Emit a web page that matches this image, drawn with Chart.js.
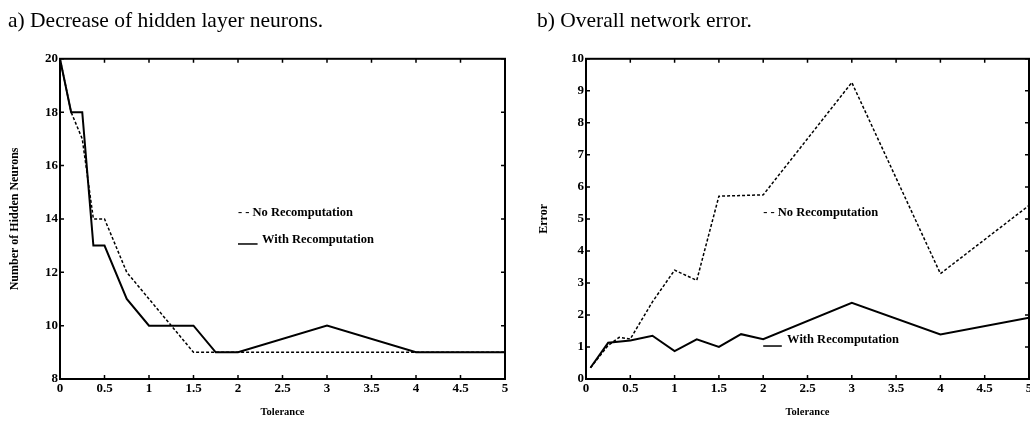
<!DOCTYPE html>
<html>
<head>
<meta charset="utf-8">
<script src="https://cdn.jsdelivr.net/npm/chart.js@4.4.1/dist/chart.umd.min.js"></script>
<style>
  html, body { margin: 0; padding: 0; background: #fff; overflow: hidden; width: 1030px; height: 426px; }
  #boxA { position: absolute; left: 0; top: 0; width: 520px; height: 426px; }
  #boxB { position: absolute; left: 530px; top: 0; width: 510px; height: 426px; }
</style>
</head>
<body>
<div id="boxA"><canvas id="neurons_canvas"></canvas></div>
<div id="boxB"><canvas id="error_canvas"></canvas></div>
<script>
// a) hidden layer neurons vs. tolerance
const tolNeurons = [0, 0.125, 0.25, 0.375, 0.5, 0.75, 1, 1.25, 1.5, 1.75, 2, 3, 4, 5];
const neuronsNoRecomp = [20, 18, 17, 14, 14, 12, 11, 10, 9, 9, 9, 9, 9, 9];
const neuronsWithRecomp = [20, 18, 18, 13, 13, 11, 10, 10, 10, 9, 9, 10, 9, 9];

// b) overall network error vs. tolerance
const tolErrorNo = [0.05, 0.25, 0.375, 0.5, 0.75, 1, 1.25, 1.5, 1.75, 2, 3, 4, 5];
const errorNoRecomp = [0.35, 1.05, 1.3, 1.25, 2.41, 3.4, 3.08, 5.71, 5.73, 5.75, 9.26, 3.29, 5.42];
const tolErrorWith = [0.05, 0.25, 0.5, 0.75, 1, 1.25, 1.5, 1.75, 2, 3, 4, 5];
const errorWithRecomp = [0.35, 1.13, 1.2, 1.35, 0.87, 1.24, 1.0, 1.4, 1.24, 2.38, 1.39, 1.91];

// tick labels
const xTicks = [0, 0.5, 1, 1.5, 2, 2.5, 3, 3.5, 4, 4.5, 5];
const yTicksNeurons = [8, 10, 12, 14, 16, 18, 20];
const yTicksError = [0, 1, 2, 3, 4, 5, 6, 7, 8, 9, 10];

const serif = "'Liberation Serif', 'Times New Roman', serif";

const toPoints = (xs, ys) => xs.map((x, i) => ({ x: x, y: ys[i] }));

// box around the plot with small inward ticks, plus the in-plot legend text
const framePlugin = {
  id: 'frame',
  afterDatasetsDraw(chart, args, opts) {
    const { ctx, chartArea: a, scales: { x, y } } = chart;
    ctx.save();
    ctx.strokeStyle = '#000';
    ctx.lineWidth = 2;
    ctx.strokeRect(a.left, a.top, a.right - a.left, a.bottom - a.top);

    ctx.lineWidth = 1.5;
    ctx.beginPath();
    x.ticks.forEach(t => {
      const px = x.getPixelForValue(t.value);
      ctx.moveTo(px, a.bottom); ctx.lineTo(px, a.bottom - 4);
      ctx.moveTo(px, a.top); ctx.lineTo(px, a.top + 4);
    });
    y.ticks.forEach(t => {
      const py = y.getPixelForValue(t.value);
      ctx.moveTo(a.left, py); ctx.lineTo(a.left + 4, py);
      ctx.moveTo(a.right, py); ctx.lineTo(a.right - 4, py);
    });
    ctx.stroke();

    // legend written inside the plot
    const lg = opts.legend;
    ctx.fillStyle = '#000';
    ctx.font = 'bold 12.5px ' + serif;
    ctx.textAlign = 'left';
    ctx.textBaseline = 'middle';
    ctx.fillText('- - No Recomputation', x.getPixelForValue(lg.x), y.getPixelForValue(lg.yNo));
    ctx.lineWidth = 1.5;
    ctx.beginPath();
    ctx.moveTo(x.getPixelForValue(lg.x), y.getPixelForValue(lg.yLine));
    ctx.lineTo(x.getPixelForValue(lg.xLineEnd), y.getPixelForValue(lg.yLine));
    ctx.stroke();
    ctx.fillText('With Recomputation', x.getPixelForValue(lg.xText), y.getPixelForValue(lg.yWith));
    ctx.restore();
  }
};

function buildOptions(title, yTitle, yMin, yMax, yTickList, pad, yWidth, yTitlePad, legend) {
  return {
    responsive: true,
    maintainAspectRatio: false,
    animation: false,
    layout: { padding: pad },
    elements: { point: { radius: 0 } },
    scales: {
      x: {
        type: 'linear',
        min: 0,
        max: 5,
        afterBuildTicks: s => { s.ticks = xTicks.map(v => ({ value: v })); },
        afterFit: s => { s.height = 47; },
        grid: { display: false, drawTicks: false },
        border: { display: false },
        ticks: {
          color: '#000',
          padding: 2,
          maxRotation: 0,
          autoSkip: false,
          font: { family: serif, weight: 'bold', size: 13 },
          callback: v => String(v)
        },
        title: {
          display: true,
          text: 'Tolerance',
          color: '#000',
          font: { family: serif, weight: 'bold', size: 10.5 },
          padding: { top: 0, bottom: 7 }
        }
      },
      y: {
        type: 'linear',
        min: yMin,
        max: yMax,
        afterBuildTicks: s => { s.ticks = yTickList.map(v => ({ value: v })); },
        afterFit: s => { s.width = yWidth; },
        grid: { display: false, drawTicks: false },
        border: { display: false },
        ticks: {
          color: '#000',
          padding: 2,
          font: { family: serif, weight: 'bold', size: 13 },
          callback: v => String(v)
        },
        title: {
          display: true,
          text: yTitle,
          color: '#000',
          font: { family: serif, weight: 'bold', size: 12 },
          padding: { top: yTitlePad, bottom: 0 }
        }
      }
    },
    plugins: {
      legend: { display: false },
      tooltip: { enabled: false },
      title: {
        display: true,
        text: title,
        align: 'start',
        color: '#000',
        font: { family: serif, weight: 'normal', size: 21.5 },
        padding: { top: 8, bottom: 25 }
      },
      frame: { legend: legend }
    }
  };
}

new Chart(document.getElementById('neurons_canvas'), {
  type: 'line',
  data: {
    datasets: [{
      label: 'No Recomputation',
      data: toPoints(tolNeurons, neuronsNoRecomp),
      borderColor: '#000',
      borderWidth: 1.5,
      borderDash: [3, 2]
    }, {
      label: 'With Recomputation',
      data: toPoints(tolNeurons, neuronsWithRecomp),
      borderColor: '#000',
      borderWidth: 2
    }]
  },
  options: buildOptions('a) Decrease of hidden layer neurons.', 'Number of Hidden Neurons', 8, 20, yTicksNeurons,
    { left: 8, right: 15, top: 0, bottom: 0 }, 52, 0,
    { x: 2.0, yNo: 14.22, xLineEnd: 2.22, yLine: 13.06, xText: 2.27, yWith: 13.2 }),
  plugins: [framePlugin]
});

new Chart(document.getElementById('error_canvas'), {
  type: 'line',
  data: {
    datasets: [{
      label: 'No Recomputation',
      data: toPoints(tolErrorNo, errorNoRecomp),
      borderColor: '#000',
      borderWidth: 1.5,
      borderDash: [3, 2]
    }, {
      label: 'With Recomputation',
      data: toPoints(tolErrorWith, errorWithRecomp),
      borderColor: '#000',
      borderWidth: 2
    }]
  },
  options: buildOptions('b) Overall network error.', 'Error', 0, 10, yTicksError,
    { left: 7, right: 11, top: 0, bottom: 0 }, 49, 0,
    { x: 2.0, yNo: 5.2, xLineEnd: 2.21, yLine: 1.03, xText: 2.27, yWith: 1.21 }),
  plugins: [framePlugin]
});
</script>
</body>
</html>
